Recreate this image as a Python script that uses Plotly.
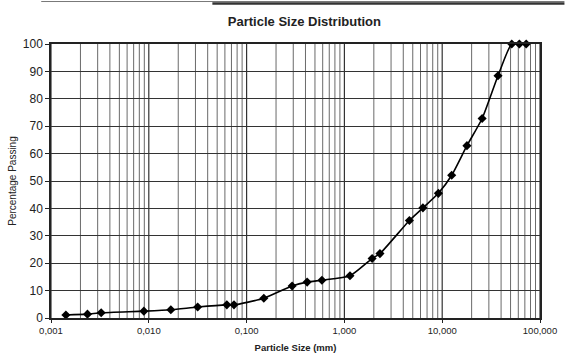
import plotly.graph_objects as go

# Sieve / hydrometer results
particle_size_mm = [0.00142, 0.00236, 0.00326, 0.0089, 0.0168, 0.0316, 0.0628, 0.0743,
                    0.150, 0.292, 0.416, 0.589, 1.14, 1.92, 2.31, 4.62, 6.35, 9.14,
                    12.5, 17.9, 25.6, 37.2, 51.4, 61.5, 72.3]
percent_passing = [1.1, 1.4, 1.9, 2.5, 3.0, 4.0, 4.8, 4.8,
                   7.2, 11.7, 13.1, 13.8, 15.4, 21.7, 23.5, 35.6, 40.2, 45.5,
                   52.1, 62.9, 72.8, 88.4, 100, 100, 100]

x_tick_vals = [0.001, 0.01, 0.1, 1, 10, 100]
x_tick_text = ["0,001", "0,010", "0,100", "1,000", "10,000", "100,000"]
y_tick_vals = list(range(0, 101, 10))

# minor log grid lines (2..9 in every decade)
minor_vals = [m * 10 ** e for e in range(-3, 2) for m in range(2, 10)]

fig = go.Figure()

fig.add_trace(go.Scatter(
    x=particle_size_mm, y=percent_passing,
    mode="lines+markers",
    line=dict(color="black", width=1.6, shape="spline", smoothing=0.6),
    marker=dict(symbol="diamond", size=7, color="black"),
    showlegend=False,
    cliponaxis=False,
))

shapes = []
for v in minor_vals:
    shapes.append(dict(type="line", xref="x", yref="paper", x0=v, x1=v, y0=0, y1=1,
                       line=dict(color="#6a6a6a", width=1), layer="below"))
for v in x_tick_vals:
    shapes.append(dict(type="line", xref="x", yref="paper", x0=v, x1=v, y0=0, y1=1,
                       line=dict(color="#333333", width=1.2), layer="below"))
# page rule above the chart
shapes.append(dict(type="line", xref="paper", yref="paper", x0=-0.02, x1=1.05,
                   y0=1.155, y1=1.155, line=dict(color="#777777", width=1)))
shapes.append(dict(type="line", xref="paper", yref="paper", x0=0.33, x1=1.05,
                   y0=1.148, y1=1.148, line=dict(color="#333333", width=2.5)))

fig.update_layout(
    width=569, height=364,
    margin=dict(l=50, r=21, t=44, b=43),
    paper_bgcolor="white", plot_bgcolor="white",
    font=dict(family="Liberation Sans, Arial, sans-serif", color="#222222"),
    title=dict(text="<b>Particle Size Distribution</b>", x=0.535, xanchor="center",
               y=0.94, yanchor="middle", font=dict(size=13, color="#222222")),
    shapes=shapes,
    xaxis=dict(
        type="log", range=[-3, 2],
        tickvals=x_tick_vals, ticktext=x_tick_text,
        tickfont=dict(size=9.5),
        showgrid=False, zeroline=False,
        showline=True, linecolor="#222222", linewidth=1.5, mirror=True,
        ticks="outside", ticklen=3, tickcolor="#222222",
        title=dict(text="<b>Particle Size (mm)</b>", font=dict(size=9.5), standoff=9),
    ),
    yaxis=dict(
        range=[0, 100], tickvals=y_tick_vals,
        tickfont=dict(size=12),
        showgrid=True, gridcolor="#333333", gridwidth=1,
        zeroline=False,
        showline=True, linecolor="#222222", linewidth=1.5, mirror=True,
        ticks="outside", ticklen=4, tickcolor="#222222",
        title=dict(text="Percentage Passing", font=dict(size=10), standoff=4),
    ),
)

fig.write_html("out.html")
